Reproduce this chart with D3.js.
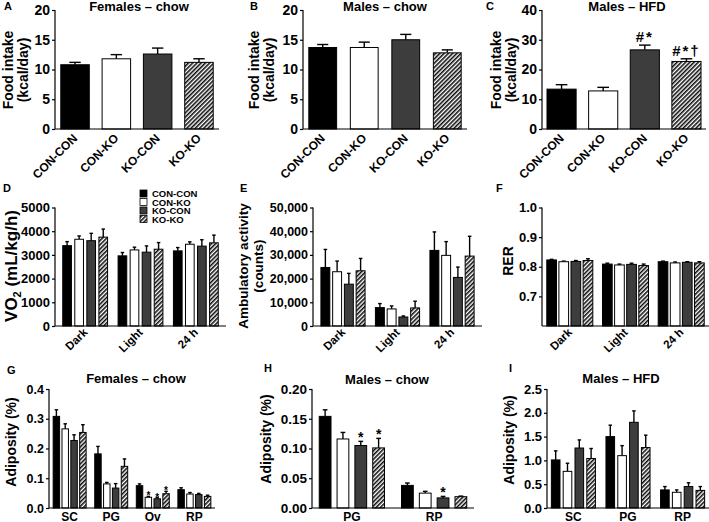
<!DOCTYPE html>
<html><head><meta charset="utf-8">
<script src="https://cdn.jsdelivr.net/npm/d3@7"></script>
<style>
body{margin:0;background:#fff;}
svg text{font-family:"Liberation Sans",Arial,sans-serif;font-weight:bold;fill:#000;}
</style></head>
<body>
<script>
// ---------- data ----------
const groups = ["CON-CON","CON-KO","KO-CON","KO-KO"];
const periods = ["Dark","Light","24 h"];
const depotsFemale = ["SC","PG","Ov","RP"];
const depotsMaleChow = ["PG","RP"];
const depotsMaleHFD = ["SC","PG","RP"];

const foodFemChow = [10.8, 11.8, 12.6, 11.2];
const foodFemChowSem = [0.4, 0.7, 1.0, 0.6];
const foodMaleChow = [13.7, 13.7, 15.0, 12.8];
const foodMaleChowSem = [0.5, 0.9, 0.9, 0.5];
const foodMaleHFD = [13.4, 12.8, 26.6, 22.7];
const foodMaleHFDSem = [1.5, 1.2, 1.6, 0.9];
const foodMaleHFDMarks = ["", "", "#*", "#*†"];

const vo2 = [[3390,3660,3600,3750],[2960,3210,3115,3240],[3170,3450,3370,3510]];
const vo2Sem = [[170,140,310,340],[140,115,265,280],[140,100,270,325]];
const activity = [[24700,22900,17650,23300],[7770,7200,3800,7630],[31900,29800,20500,29500]];
const activitySem = [[7600,4500,4550,5200],[1700,1270,440,2820],[7800,5800,4360,8350]];
const rer = [[0.823,0.817,0.818,0.821],[0.809,0.806,0.808,0.804],[0.817,0.813,0.815,0.813]];
const rerSem = [[0.002,0.002,0.003,0.006],[0.003,0.003,0.004,0.005],[0.002,0.003,0.002,0.004]];

const adipFemChow = [[0.308,0.266,0.227,0.254],[0.182,0.081,0.067,0.140],[0.075,0.036,0.031,0.048],[0.0615,0.047,0.045,0.039]];
const adipFemChowSem = [[0.022,0.017,0.019,0.026],[0.025,0.005,0.015,0.025],[0.006,0.003,0.004,0.008],[0.0065,0.005,0.004,0.004]];
const adipFemChowMarks = [["","","",""],["","","",""],["","*","*","*"],["","","",""]];
const adipMaleChow = [[0.154,0.116,0.105,0.101],[0.038,0.025,0.017,0.019]];
const adipMaleChowSem = [[0.011,0.011,0.007,0.016],[0.004,0.003,0.0025,0.001]];
const adipMaleChowMarks = [["","","*","*"],["","","*",""]];
const adipMaleHFD = [[1.01,0.77,1.26,1.04],[1.50,1.10,1.80,1.27],[0.38,0.33,0.45,0.37]];
const adipMaleHFDSem = [[0.19,0.17,0.17,0.21],[0.24,0.21,0.24,0.26],[0.07,0.05,0.08,0.08]];

const foodTicks20 = [0,5,10,15,20];
const foodTicks40 = [0,10,20,30,40];
const vo2Ticks = [0,1000,2000,3000,4000,5000];
const activityTicks = [0,10000,20000,30000,40000,50000];
const rerTicks = [0.7,0.8,0.9,1.0];
const adipFemTicks = [0,0.1,0.2,0.3,0.4];
const adipMaleChowTicks = [0,0.05,0.10,0.15,0.20];
const adipHFDTicks = [0,0.5,1.0,1.5,2.0,2.5];

// ---------- drawing ----------
const W = 709, H = 522;
const svg = d3.select("body").append("svg").attr("width", W).attr("height", H);
const defs = svg.append("defs");
const pat = defs.append("pattern").attr("id","hatch").attr("patternUnits","userSpaceOnUse")
  .attr("width",3).attr("height",3).attr("patternTransform","rotate(45)");
pat.append("rect").attr("width",3).attr("height",3).attr("fill","#fff");
pat.append("line").attr("x1",0.8).attr("y1",0).attr("x2",0.8).attr("y2",3).attr("stroke","#000").attr("stroke-width",1.5);
const fills = ["#000","#fff","#3d3d3d","url(#hatch)"];

function drawPanel(o){
  const g = svg.append("g");
  const y = d3.scaleLinear().domain(o.yDomain).range([o.yBottom, o.yTop]);
  const outer = d3.scaleBand().domain(o.cats).range([o.x0, o.x1]).paddingInner(o.pi).paddingOuter(o.po);
  const bars = [];
  if (o.single) {
    o.cats.forEach((c,i)=>bars.push({x:outer(c), w:outer.bandwidth(), v:o.values[i], e:o.sems[i], fill:fills[i], mark:o.marks?o.marks[i]:""}));
  } else {
    const inner = d3.scaleBand().domain(groups).range([0, outer.bandwidth()]).paddingInner(o.pin);
    o.cats.forEach((c,i)=>groups.forEach((gname,j)=>bars.push({
      x:outer(c)+inner(gname), w:inner.bandwidth(), v:o.values[i][j], e:o.sems[i][j], fill:fills[j],
      mark:o.marks?o.marks[i][j]:""})));
  }
  const base = y(o.yDomain[0]);
  bars.forEach(b=>{
    const cx = b.x + b.w/2, cw = Math.max(3.5, b.w*0.4);
    g.append("line").attr("x1",cx).attr("x2",cx).attr("y1",y(b.v)).attr("y2",y(b.v+b.e)).attr("stroke","#000").attr("stroke-width",1.4);
    g.append("line").attr("x1",cx-cw/2).attr("x2",cx+cw/2).attr("y1",y(b.v+b.e)).attr("y2",y(b.v+b.e)).attr("stroke","#000").attr("stroke-width",1.4);
  });
  g.selectAll("rect.bar").data(bars).join("rect").attr("class","bar")
    .attr("x",d=>d.x).attr("width",d=>d.w).attr("y",d=>y(d.v)).attr("height",d=>base-y(d.v))
    .attr("fill",d=>d.fill).attr("stroke","#000").attr("stroke-width",1);
  bars.filter(b=>b.mark).forEach(b=>{
    g.append("text").attr("x",b.x+b.w/2).attr("y",y(b.v+b.e)+o.markDy)
      .attr("text-anchor","middle").style("font-size",o.markSize+"px")
      .style("letter-spacing", o.markSpacing||"0px").text(b.mark);
  });
  const ya = d3.axisLeft(y).tickValues(o.ticks).tickFormat(o.fmt).tickSize(3).tickSizeOuter(0).tickPadding(2);
  const yg = g.append("g").attr("transform",`translate(${o.x0},0)`).call(ya);
  yg.selectAll("text").style("font-size",o.tickSize+"px").style("font-family",'"Liberation Sans",Arial,sans-serif').style("font-weight","bold");
  yg.selectAll("line,path").attr("stroke","#000").attr("stroke-width",1.2);
  yg.select("path.domain").attr("d",`M0,${o.yBottom}V${o.yTop}`);
  g.append("line").attr("x1",o.x0).attr("x2",o.x1).attr("y1",o.yBottom).attr("y2",o.yBottom).attr("stroke","#000").attr("stroke-width",1.2);
  o.cats.forEach(c=>{
    const cx = outer(c) + outer.bandwidth()/2;
    if (o.rotate) {
      g.append("text").attr("transform",`translate(${cx+o.lx},${o.yBottom+o.ly}) rotate(-45)`)
        .attr("text-anchor","end").style("font-size",o.xSize+"px").text(c);
    } else {
      g.append("text").attr("x",cx).attr("y",o.yBottom+o.ly).attr("text-anchor","middle").style("font-size",o.xSize+"px").text(c);
    }
  });
  o.ylab.forEach((l,i)=>{
    const t = g.append("text").attr("transform",`translate(${o.ylabX[i]},${o.ylabY}) rotate(-90)`)
      .attr("text-anchor","middle").style("font-size",(o.ylabSize||13)+"px");
    if (Array.isArray(l)) l.forEach(p=>{ const s=t.append("tspan").text(p.t); if(p.sub){s.attr("dy",4).style("font-size","11px");} if(p.after){s.attr("dy",-4);} });
    else t.text(l);
  });
  if (o.title) g.append("text").attr("x",o.titleX).attr("y",o.titleY).attr("text-anchor","middle").style("font-size","13px").text(o.title);
  g.append("text").attr("x",o.letterX).attr("y",o.letterY).style("font-size","11px").text(o.letter);
}

const f0 = d3.format("d");
// Row 1
drawPanel({single:true, cats:groups, values:foodFemChow, sems:foodFemChowSem, x0:55, x1:219, pi:0.31, po:0.14,
  yTop:10, yBottom:129, yDomain:[0,20], ticks:foodTicks20, fmt:f0, tickSize:14, rotate:true, lx:3, ly:10, xSize:12,
  ylab:["Food intake","(kcal/day)"], ylabX:[13,28], ylabY:70, ylabSize:14, title:"Females – chow", titleX:139, titleY:11, letter:"A", letterX:4, letterY:10});
drawPanel({single:true, cats:groups, values:foodMaleChow, sems:foodMaleChowSem, x0:303, x1:467, pi:0.33, po:0.14,
  yTop:10, yBottom:129, yDomain:[0,20], ticks:foodTicks20, fmt:f0, tickSize:14, rotate:true, lx:3, ly:10, xSize:12,
  ylab:["Food intake","(kcal/day)"], ylabX:[259,274], ylabY:70, ylabSize:14, title:"Males – chow", titleX:385, titleY:11, letter:"B", letterX:250, letterY:10});
drawPanel({single:true, cats:groups, values:foodMaleHFD, sems:foodMaleHFDSem, marks:foodMaleHFDMarks, markDy:-3, markSize:15, markSpacing:"2px",
  x0:542, x1:706, pi:0.30, po:0.12,
  yTop:10, yBottom:129, yDomain:[0,40], ticks:foodTicks40, fmt:f0, tickSize:14, rotate:true, lx:3, ly:10, xSize:12,
  ylab:["Food intake","(kcal/day)"], ylabX:[501,516], ylabY:70, ylabSize:14, title:"Males – HFD", titleX:627, titleY:11, letter:"C", letterX:486, letterY:10});
// Row 2
drawPanel({cats:periods, values:vo2, sems:vo2Sem, x0:55, x1:226, pi:0.19, po:0.14, pin:0.28,
  yTop:207.5, yBottom:326, yDomain:[0,5000], ticks:vo2Ticks, fmt:f0, tickSize:13, rotate:true, lx:3, ly:7, xSize:11.5,
  ylab:[[{t:"VO"},{t:"2",sub:true},{t:" (mL/kg/h)",after:true}]], ylabX:[17], ylabY:266, ylabSize:17, letter:"D", letterX:3, letterY:192});
drawPanel({cats:periods, values:activity, sems:activitySem, x0:313, x1:482, pi:0.19, po:0.145, pin:0.24,
  yTop:207.5, yBottom:326, yDomain:[0,50000], ticks:activityTicks, fmt:d3.format(","), tickSize:12.5, rotate:true, lx:3, ly:7, xSize:11.5,
  ylab:["Ambulatory activity","(counts)"], ylabX:[248,263], ylabY:266, ylabSize:13.5, letter:"E", letterX:240, letterY:192});
drawPanel({cats:periods, values:rer, sems:rerSem, x0:542, x1:709, pi:0.174, po:0.086, pin:0.2,
  yTop:207.5, yBottom:326, yDomain:[0.6,1.0], ticks:rerTicks, fmt:d3.format(".1f"), tickSize:13, rotate:true, lx:3, ly:7, xSize:11.5,
  ylab:["RER"], ylabX:[513], ylabY:261, ylabSize:14, letter:"F", letterX:496, letterY:192});
// Row 3
drawPanel({cats:depotsFemale, values:adipFemChow, sems:adipFemChowSem, marks:adipFemChowMarks, markDy:3, markSize:10,
  x0:49, x1:215, pi:0.207, po:0.1, pin:0.27,
  yTop:389, yBottom:508, yDomain:[0,0.4], ticks:adipFemTicks, fmt:d3.format(".1f"), tickSize:12.5, rotate:false, ly:12.5, xSize:12,
  ylab:["Adiposity (%)"], ylabX:[16], ylabY:442, ylabSize:14, title:"Females – chow", titleX:136, titleY:383, letter:"G", letterX:7, letterY:374});
drawPanel({cats:depotsMaleChow, values:adipMaleChow, sems:adipMaleChowSem, marks:adipMaleChowMarks, markDy:1, markSize:14,
  x0:312, x1:474, pi:0.207, po:0.088, pin:0.34,
  yTop:389, yBottom:508, yDomain:[0,0.2], ticks:adipMaleChowTicks, fmt:d3.format(".2f"), tickSize:13.5, rotate:false, ly:12.5, xSize:12,
  ylab:["Adiposity (%)"], ylabX:[271], ylabY:439, ylabSize:14, title:"Males – chow", titleX:387, titleY:384, letter:"H", letterX:264, letterY:372});
drawPanel({cats:depotsMaleHFD, values:adipMaleHFD, sems:adipMaleHFDSem,
  x0:547, x1:709, pi:0.193, po:0.08, pin:0.27,
  yTop:389, yBottom:508, yDomain:[0,2.5], ticks:adipHFDTicks, fmt:d3.format(".1f"), tickSize:13, rotate:false, ly:12.5, xSize:12,
  ylab:["Adiposity (%)"], ylabX:[514], ylabY:440, ylabSize:14, title:"Males – HFD", titleX:621, titleY:383, letter:"I", letterX:509, letterY:372});

// Legend (panel D)
const leg = svg.append("g");
groups.forEach((gname,i)=>{
  const yy = 190 + i*8.5;
  leg.append("rect").attr("x",140).attr("y",yy).attr("width",7).attr("height",7).attr("fill",fills[i]).attr("stroke","#000").attr("stroke-width",0.8);
  leg.append("text").attr("x",152).attr("y",yy+7).style("font-size","9.5px").text(gname);
});
</script>
</body></html>
